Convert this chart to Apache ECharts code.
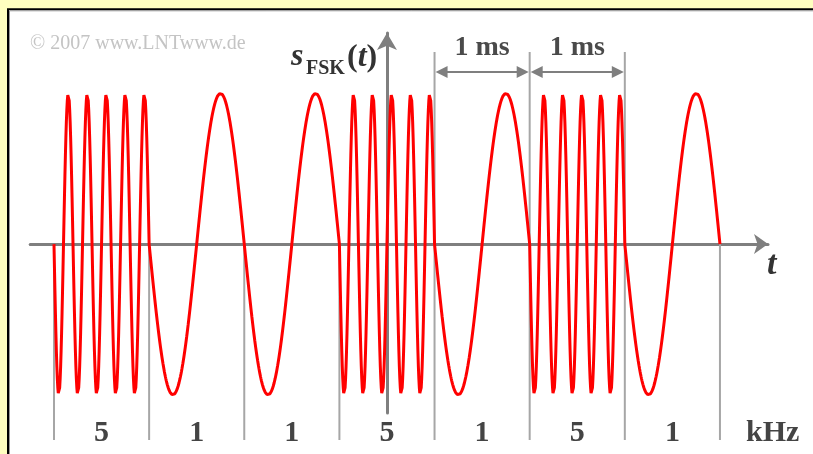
<!DOCTYPE html>
<html><head><meta charset="utf-8">
<script src="https://cdn.jsdelivr.net/npm/echarts@6/dist/echarts.min.js"></script>
<style>html,body{margin:0;padding:0;background:#FFFFC0;}#c{width:813px;height:454px;}</style>
</head><body><div id="c"></div>
<script>
// ---- data ----
const bitFreqsKHz = [5, 1, 1, 5, 1, 5, 1];          // frequency of each 1 ms bit
const freqLabels = ['5', '1', '1', '5', '1', '5', '1'];
const bitDurationMs = 1;
const startTimeMs = -3.5;                             // y-axis sits in the middle of bit 4
const amplitude = 1;
const unitLabel = 'kHz';
const dimSpansMs = [[0.5, 1.5], [1.5, 2.5]];          // "1 ms" dimension arrows
const dimLabels = ['1 ms', '1 ms'];
const markerTimesMs = [0.5, 1.5, 2.5];                // upper reference lines

// ---- derived ----
const boundaryTimes = bitFreqsKHz.map((f, k) => startTimeMs + k * bitDurationMs)
  .concat([startTimeMs + bitFreqsKHz.length * bitDurationMs]);
const signal = [];
bitFreqsKHz.forEach((f, k) => {
  const t0 = startTimeMs + k * bitDurationMs;
  const n = 200;
  for (let i = (k === 0 ? 0 : 1); i <= n; i++) {
    const tau = i / n * bitDurationMs;
    signal.push([t0 + tau, -amplitude * Math.sin(2 * Math.PI * f * tau)]);
  }
});

const SERIF = '"Liberation Serif","DejaVu Serif",serif';
const GRAY = '#7f7f7f';
const LTGRAY = '#a6a6a6';
const lowerTickEnd = -1.299;
const upperMarkerTop = 1.274;
const dimY = 1.141;
const labelY = -1.253;

const chart = echarts.init(document.getElementById('c'), null, {renderer: 'canvas'});
chart.setOption({
  animation: false,
  backgroundColor: '#FFFFC0',
  grid: {left: 30.2, right: 45, top: 33, bottom: 41},
  xAxis: {
    type: 'value', min: -3.75, max: 4.005,
    axisLine: {onZero: true, symbol: ['none', 'arrow'], symbolSize: [15, 14],
      lineStyle: {color: GRAY, width: 3}},
    axisTick: {show: false}, axisLabel: {show: false}, splitLine: {show: false}
  },
  yAxis: {
    type: 'value', min: -1.12, max: 1.40,
    axisLine: {onZero: true, symbol: ['none', 'arrow'], symbolSize: [15, 17],
      lineStyle: {color: GRAY, width: 3}},
    axisTick: {show: false}, axisLabel: {show: false}, splitLine: {show: false}
  },
  graphic: [
    {type: 'rect', z: -10, shape: {x: 8, y: 9.3, width: 900, height: 500},
      style: {fill: '#fff', stroke: '#000', lineWidth: 2}},
    {type: 'rect', z: -9, shape: {x: 9.5, y: 10.8, width: 900, height: 500},
      style: {fill: 'none', stroke: '#999', lineWidth: 1}},
    {type: 'text', z: 5, x: 30, y: 44, style: {text: '\u00A9 2007 www.LNTwww.de',
      font: '20px ' + SERIF, fill: '#c4c4c4', verticalAlign: 'middle', align: 'left'}},
    {type: 'text', z: 5, x: 291, y: 57, style: {text: 's',
      font: 'italic bold 32px ' + SERIF, fill: '#333', verticalAlign: 'middle', align: 'left'}},
    {type: 'text', z: 5, x: 306, y: 69, style: {text: 'FSK',
      font: 'bold 20px ' + SERIF, fill: '#333', verticalAlign: 'middle', align: 'left'}},
    {type: 'text', z: 5, x: 347, y: 58, style: {text: '{p|(}{t|t}{p|)}',
      rich: {p: {font: 'bold 32px ' + SERIF, fill: '#333'}, t: {font: 'italic bold 32px ' + SERIF, fill: '#333'}},
      verticalAlign: 'middle', align: 'left'}},
    {type: 'text', z: 5, x: 767, y: 265, style: {text: 't',
      font: 'italic bold 34px ' + SERIF, fill: '#333', verticalAlign: 'middle', align: 'left'}},
    {type: 'text', z: 5, x: 746, y: 433, style: {text: unitLabel,
      font: 'bold 30px ' + SERIF, fill: '#444', verticalAlign: 'middle', align: 'left'}}
  ],
  series: [
    { // lower bit boundary ticks
      type: 'custom', z: 1, silent: true, clip: false,
      data: boundaryTimes.map(t => [t, 0]),
      renderItem: (p, api) => {
        const a = api.coord([api.value(0), 0]);
        const b = api.coord([api.value(0), lowerTickEnd]);
        return {type: 'line', shape: {x1: a[0], y1: a[1], x2: b[0], y2: b[1]},
          style: {stroke: LTGRAY, lineWidth: 2}};
      }
    },
    { // upper reference lines
      type: 'custom', z: 1, silent: true, clip: false,
      data: markerTimesMs.map(t => [t, 0]),
      renderItem: (p, api) => {
        const a = api.coord([api.value(0), upperMarkerTop]);
        const b = api.coord([api.value(0), 0]);
        return {type: 'line', shape: {x1: a[0], y1: a[1], x2: b[0], y2: b[1]},
          style: {stroke: LTGRAY, lineWidth: 2}};
      }
    },
    { // dimension arrows with labels
      type: 'custom', z: 4, silent: true, clip: false,
      data: dimSpansMs.map((s, i) => [s[0], s[1], i]),
      renderItem: (p, api) => {
        const a = api.coord([api.value(0), dimY]);
        const b = api.coord([api.value(1), dimY]);
        const L = 13, H = 6, y = a[1];
        const label = dimLabels[api.value(2)];
        return {type: 'group', children: [
          {type: 'line', shape: {x1: a[0] + 4, y1: y, x2: b[0] - 4, y2: y}, style: {stroke: GRAY, lineWidth: 2}},
          {type: 'polygon', shape: {points: [[a[0] + 1, y], [a[0] + L, y - H], [a[0] + L, y + H]]}, style: {fill: GRAY}},
          {type: 'polygon', shape: {points: [[b[0] - 1, y], [b[0] - L, y - H], [b[0] - L, y + H]]}, style: {fill: GRAY}},
          {type: 'text', x: (a[0] + b[0]) / 2, y: y - 24, style: {text: label,
            font: 'bold 28px ' + SERIF, fill: '#4a4a4a', align: 'center', verticalAlign: 'middle'}}
        ]};
      }
    },
    { // frequency labels
      type: 'custom', z: 4, silent: true, clip: false,
      data: bitFreqsKHz.map((f, k) => [startTimeMs + (k + 0.5) * bitDurationMs, labelY, k]),
      renderItem: (p, api) => {
        const c = api.coord([api.value(0), api.value(1)]);
        return {type: 'text', x: c[0], y: c[1], style: {text: freqLabels[api.value(2)],
          font: 'bold 30px ' + SERIF, fill: '#444', align: 'center', verticalAlign: 'middle'}};
      }
    },
    {
      type: 'line', z: 3, data: signal, showSymbol: false, symbol: 'none', smooth: false,
      lineStyle: {color: '#ff0000', width: 3}, silent: true
    }
  ]
});
</script></body></html>
